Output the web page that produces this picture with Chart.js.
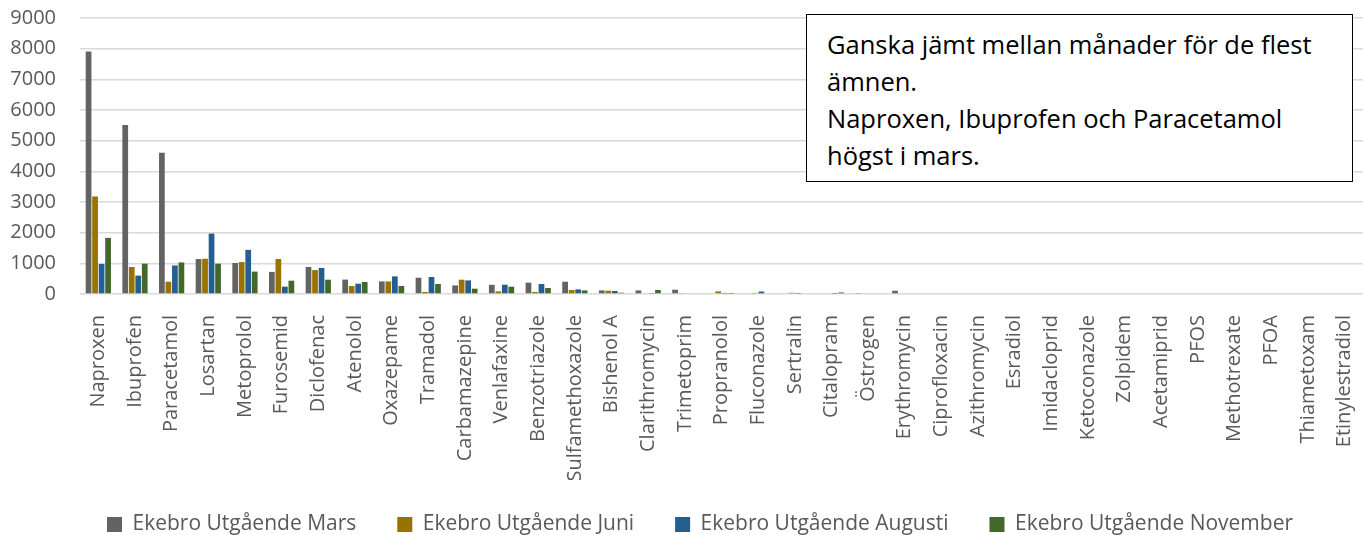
<!DOCTYPE html>
<html>
<head>
<meta charset="utf-8">
<script src="https://cdn.jsdelivr.net/npm/chart.js@4.4.1/dist/chart.umd.min.js"></script>
<style>
  html, body { margin: 0; padding: 0; background: #fff; }
  #wrap { position: relative; width: 1363px; height: 535px; }
  #note {
    position: absolute; left: 806px; top: 14px; width: 547px; height: 168px;
    border: 1.5px solid #000; background: #fff; box-sizing: border-box;
    font-family: "Open Sans", sans-serif; font-size: 25.5px; line-height: 37px;
    color: #000; padding: 11px 0 0 20px; white-space: nowrap;
  }
</style>
</head>
<body>
<div id="wrap">
  <canvas id="c" width="1363" height="535"></canvas>
  <div id="note">Ganska jämt mellan månader för de flest<br>ämnen.<br>Naproxen, Ibuprofen och Paracetamol<br>högst i mars.</div>
</div>
<script>
const categories = ["Naproxen","Ibuprofen","Paracetamol","Losartan","Metoprolol","Furosemid","Diclofenac","Atenolol","Oxazepame","Tramadol","Carbamazepine","Venlafaxine","Benzotriazole","Sulfamethoxazole","Bishenol A","Clarithromycin","Trimetoprim","Propranolol","Fluconazole","Sertralin","Citalopram","Östrogen","Erythromycin","Ciprofloxacin","Azithromycin","Esradiol","Imidacloprid","Ketoconazole","Zolpidem","Acetamiprid","PFOS","Methotrexate","PFOA","Thiametoxam","Etinylestradiol"];
const seriesNames = ["Ekebro Utgående Mars","Ekebro Utgående Juni","Ekebro Utgående Augusti","Ekebro Utgående November"];
const mars     = [7910,5510,4610,1140,1010,720,880,470,410,530,280,300,370,400,117,117,140,0,0,0,0,33,107,0,0,0,0,0,0,0,0,0,0,0,0];
const juni     = [3180,880,400,1150,1040,1140,780,260,410,65,466,85,65,130,107,0,20,85,35,40,0,25,0,0,0,0,0,0,0,0,0,0,0,0,0];
const augusti  = [980,600,930,1970,1440,240,850,336,574,554,443,303,326,150,98,33,0,12,80,12,12,0,0,0,0,0,0,0,0,0,0,0,0,0,0];
const november = [1830,990,1030,990,730,434,466,391,261,326,173,238,196,117,42,130,0,12,0,0,50,0,0,0,0,0,0,0,0,0,0,0,0,0,0];
const yTicks = [0,1000,2000,3000,4000,5000,6000,7000,8000,9000];
const colors = ["#636363","#997300","#255E91","#43682B"];

const legendFix = {
  id: 'legendFix',
  beforeUpdate(chart) {
    const lg = chart.legend;
    if (lg && !lg._fixed) {
      const f = lg.fit;
      lg.fit = function () { f.call(this); this.height = 55; };
      lg._fixed = true;
    }
  },
  afterLayout(chart) {
    if (chart.legend) { chart.legend.left += 44; }
  }
};

const font = { family: "'Open Sans', sans-serif", size: 20 };
new Chart(document.getElementById('c'), {
  type: 'bar',
  data: {
    labels: categories,
    datasets: [mars, juni, augusti, november].map((d, i) => ({
      label: seriesNames[i], data: d, backgroundColor: colors[i],
      borderWidth: 0, categoryPercentage: 0.71, barPercentage: 0.88
    }))
  },
  options: {
    responsive: false, animation: false,
    layout: { padding: { top: 18, left: 0, right: 0, bottom: 0 } },
    plugins: {
      legend: {
        position: 'bottom',
        labels: {
          font: { family: "'Open Sans', sans-serif", size: 21 }, color: '#595959',
          boxWidth: 15, boxHeight: 15, padding: 34,
          generateLabels(chart) {
            const items = Chart.defaults.plugins.legend.labels.generateLabels(chart);
            items.forEach(it => { it.text = it.text + '\u2004'; });
            return items;
          }
        }
      },
      tooltip: { enabled: false }
    },
    scales: {
      x: {
        grid: { display: false, drawTicks: true, tickLength: 21 },
        border: { display: false },
        ticks: { font: { family: "'Open Sans', sans-serif", size: 20, lineHeight: 0.9 },
                 color: '#595959', minRotation: 90, maxRotation: 90, autoSkip: false, padding: 0 },
        afterFit(s) { s.height = 186; }
      },
      y: {
        min: 0, max: 9000,
        grid: { color: '#d9d9d9', lineWidth: 1.5, drawTicks: true, tickLength: 22, tickColor: 'rgba(0,0,0,0)' },
        border: { display: false },
        ticks: { font: font, color: '#595959', stepSize: 1000, padding: 2,
                 callback: (v) => yTicks.includes(v) ? String(v) : '' },
        afterFit(s) { s.width = 80; }
      }
    }
  },
  plugins: [legendFix]
});
</script>
</body>
</html>
